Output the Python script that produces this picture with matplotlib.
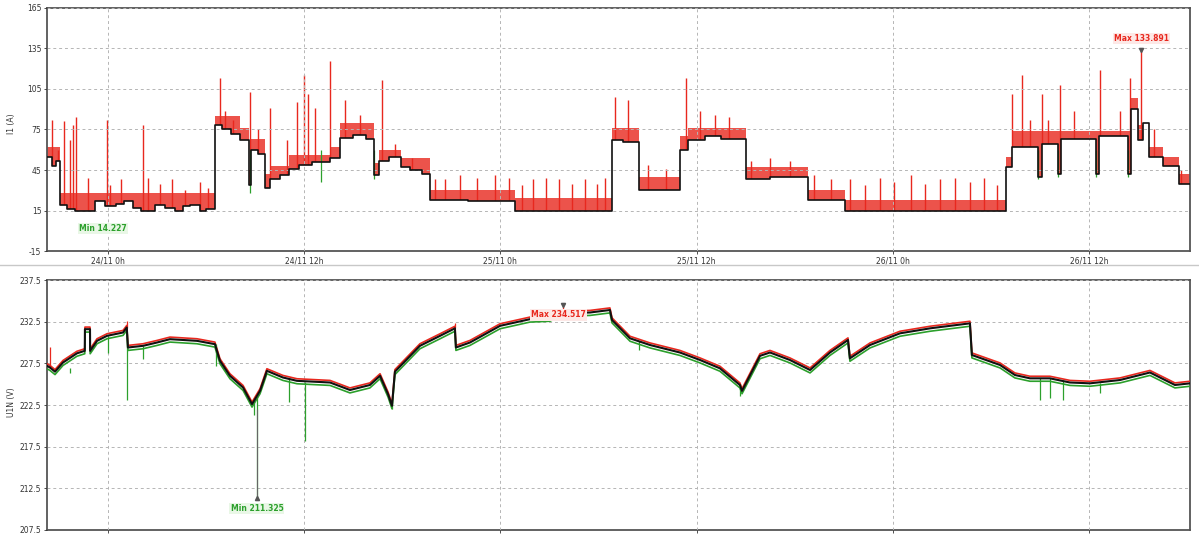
import matplotlib
matplotlib.use("Agg")
import matplotlib.pyplot as plt
from matplotlib.lines import Line2D

# ---------------- data (hours since 24/11 0h) ----------------
x_start, x_end = -3.73, 66.18
xtick_pos = [0, 12, 24, 36, 48, 60]
xtick_labels = ["24/11 0h", "24/11 12h", "25/11 0h", "25/11 12h", "26/11 0h", "26/11 12h"]

i1_ticks = [-15, 15, 45, 75, 105, 135, 165]
u_ticks = [207.5, 212.5, 217.5, 222.5, 227.5, 232.5, 237.5]

# I1 average (step breakpoints)
i1_avg_t = [-3.73, -3.45, -3.2, -2.94, -2.5, -2.0, -1.5, -0.8, -0.2, 0.5,
            1.0, 1.5, 2.0, 2.9, 3.5, 4.1, 4.6, 5.0, 5.6, 6.0,
            6.54, 7.0, 7.5, 8.07, 8.6, 8.75, 9.2, 9.6, 9.9, 10.5,
            11.1, 11.7, 12.5, 13.6, 14.2, 15.0, 15.8, 16.3, 16.6, 17.2,
            17.9, 18.5, 19.2, 19.7, 22.0, 24.9, 27.0, 30.8, 31.5, 32.5,
            35.0, 35.5, 36.5, 37.5, 39.0, 40.5, 42.8, 45.1,
            54.9, 55.3, 56.9, 57.1, 58.1, 58.3, 60.4, 60.6, 62.4, 62.6,
            63.0, 63.3, 63.7, 64.5, 65.5, 66.18]
i1_avg_v = [55, 48, 52, 19, 16, 15, 15, 22, 18, 20,
            22, 17, 15, 19, 17, 15, 18, 19, 15, 16,
            78, 75, 72, 67, 34, 60, 57, 32, 38, 41,
            46, 49, 51, 54, 69, 71, 68, 41, 52, 55,
            47, 45, 42, 23, 22, 15, 15, 67, 66, 30,
            60, 67, 70, 68, 38, 40, 23, 15,
            47, 62, 40, 64, 42, 68, 42, 70, 42, 90,
            67, 80, 55, 48, 35, 35]

# I1 maximum envelope (step breakpoints)
i1_max_t = [-3.73, -2.94, 6.54, 8.07, 8.6, 8.75, 9.6, 9.9, 11.1, 13.6,
            14.2, 16.3, 16.6, 17.9, 19.7, 24.9, 30.8, 32.5, 35.0, 35.5,
            39.0, 42.8, 45.1, 54.9, 55.3, 62.6, 63.0, 63.7, 64.5, 65.5, 66.18]
i1_max_v = [62, 28, 85, 76, 45, 68, 42, 48, 56, 62,
            80, 50, 60, 54, 30, 24, 76, 40, 70, 76,
            47, 30, 23, 55, 74, 98, 78, 62, 55, 42, 42]

# I1 maximum spikes
i1_spk_t = [-3.43, -3.06, -2.69, -2.32, -2.14, -1.96, -1.22, -0.06, 0.12, 0.80,
            2.14, 2.45, 3.18, 3.91, 4.71, 5.63, 6.12, 6.85, 7.16, 7.65,
            8.69, 9.17, 9.91, 10.95, 11.56, 11.99, 12.23, 12.66, 13.58, 14.50,
            15.41, 16.76, 17.55, 18.59, 20.0, 20.6, 21.5, 22.6, 23.7, 24.5,
            25.3, 26.0, 26.8, 27.6, 28.4, 29.2, 29.9, 30.4, 31.0, 31.8,
            33.0, 34.1, 35.35, 36.2, 37.1, 38.0, 39.3, 40.5, 41.7, 43.2,
            44.2, 45.4, 46.3, 47.2, 48.1, 49.1, 50.0, 50.9, 51.8, 52.7,
            53.6, 54.4, 55.3, 55.9, 56.4, 57.1, 57.5, 58.2, 59.1, 60.7,
            61.9, 62.5, 63.2, 64.0, 64.9, 65.6]
i1_spk_v = [82, 60, 81, 67, 78, 84, 39, 82, 34, 38,
            78, 39, 35, 38, 30, 36, 32, 113, 89, 82,
            103, 75, 91, 67, 95, 115, 101, 91, 126, 97,
            86, 112, 64, 54, 38, 38, 41, 39, 41, 39,
            34, 38, 39, 38, 35, 38, 35, 39, 99, 97,
            49, 46, 113, 89, 86, 84, 52, 54, 52, 41,
            38, 38, 34, 39, 36, 41, 35, 38, 39, 36,
            39, 34, 101, 115, 82, 101, 82, 108, 89, 119,
            89, 113, 133.891, 75, 49, 45]

# I1 minimum dips
i1_dip_t = [8.7, 13.0, 16.3, 56.9, 58.1, 60.4, 62.4]
i1_dip_v = [28, 36, 38, 38, 40, 40, 40]

i1_min_pt = (-2.0, 14.227)
i1_max_pt = (63.2, 133.891)

# U1N average / maximum / minimum
u_avg_t = [-3.73, -3.55, -3.24, -2.75, -1.90, -1.42, -1.41, -1.10, -1.09, -0.67,
           -0.06, 0.92, 1.15, 1.22, 2.14, 3.00, 3.79, 5.44, 6.54, 6.85,
           7.46, 8.26, 8.81, 9.30, 9.72, 10.70, 11.56, 13.58, 14.80, 16.02,
           16.64, 17.13, 17.37, 17.55, 19.08, 20.31, 21.22, 21.28, 22.14, 23.98,
           25.81, 27.03, 27.65, 29.48, 30.70, 30.83, 31.93, 33.15, 34.98, 36.21,
           37.43, 38.65, 38.78, 39.88, 40.49, 41.71, 42.94, 44.16, 45.26, 45.38,
           46.61, 48.44, 50.28, 52.72, 52.84, 54.56, 55.47, 56.39, 57.61, 58.84,
           60.06, 61.90, 63.73, 64.65, 65.26, 66.18]
u_avg_v = [227.2, 227.0, 226.5, 227.6, 228.7, 229.0, 231.6, 231.6, 229.0, 230.2,
           230.8, 231.2, 231.8, 229.4, 229.6, 230.0, 230.4, 230.2, 229.8, 227.8,
           226.0, 224.6, 222.6, 224.2, 226.6, 225.8, 225.4, 225.2, 224.3, 224.9,
           226.0, 223.8, 222.4, 226.5, 229.6, 230.8, 231.7, 229.4, 230.0, 232.0,
           232.8, 232.9, 233.5, 233.6, 233.9, 232.7, 230.5, 229.7, 228.8, 227.9,
           226.9, 224.9, 224.2, 228.4, 228.8, 227.9, 226.7, 228.8, 230.3, 228.1,
           229.7, 231.1, 231.7, 232.3, 228.5, 227.3, 226.1, 225.7, 225.7, 225.2,
           225.1, 225.5, 226.4, 225.5, 224.9, 225.1]
u_max_v = [227.45, 227.25, 226.75, 227.85, 228.95, 229.25, 231.85, 231.85, 229.25, 230.45,
           231.05, 231.45, 232.05, 229.65, 229.85, 230.25, 230.65, 230.45, 230.05, 228.05,
           226.25, 224.85, 222.85, 224.45, 226.85, 226.05, 225.65, 225.45, 224.55, 225.15,
           226.25, 224.05, 222.65, 226.75, 229.85, 231.05, 231.95, 229.65, 230.25, 232.25,
           233.05, 233.15, 233.75, 233.85, 234.15, 232.95, 230.75, 229.95, 229.05, 228.15,
           227.15, 225.15, 224.45, 228.65, 229.05, 228.15, 226.95, 229.05, 230.55, 228.35,
           229.95, 231.35, 231.95, 232.55, 228.75, 227.55, 226.35, 225.95, 225.95, 225.45,
           225.35, 225.75, 226.65, 225.75, 225.15, 225.35]
u_min_v = [226.85, 226.65, 226.15, 227.25, 228.35, 228.65, 231.25, 231.25, 228.65, 229.85,
           230.45, 230.85, 231.45, 229.05, 229.25, 229.65, 230.05, 229.85, 229.45, 227.45,
           225.65, 224.25, 222.25, 223.85, 226.25, 225.45, 225.05, 224.85, 223.95, 224.55,
           225.65, 223.45, 222.05, 226.15, 229.25, 230.45, 231.35, 229.05, 229.65, 231.65,
           232.45, 232.55, 233.15, 233.25, 233.55, 232.35, 230.15, 229.35, 228.45, 227.55,
           226.55, 224.55, 223.85, 228.05, 228.45, 227.55, 226.35, 228.45, 229.95, 227.75,
           229.35, 230.75, 231.35, 231.95, 228.15, 226.95, 225.75, 225.35, 225.35, 224.85,
           224.75, 225.15, 226.05, 225.15, 224.55, 224.75]

u_spk_t = [-3.55, 1.16, 21.2, 27.8]
u_spk_base = [227.0, 231.8, 231.7, 233.6]
u_spk_v = [229.5, 232.6, 232.3, 234.517]
u_dip_t = [-2.3, 0.0, 1.16, 2.14, 6.6, 8.95, 9.11, 11.1, 12.05, 17.37, 32.5, 38.65, 57.0, 57.6, 58.4, 60.7]
u_dip_base = [227.0, 230.8, 231.0, 229.6, 229.8, 223.0, 223.5, 225.8, 225.3, 223.0, 230.2, 225.0, 225.7, 225.7, 225.4, 225.2]
u_dip_v = [226.3, 228.8, 223.1, 228.0, 227.2, 221.3, 211.325, 222.9, 218.2, 222.0, 229.1, 223.6, 223.1, 223.4, 223.1, 224.0]

u_min_pt = (9.11, 211.325)
u_max_pt = (27.8, 234.517)

# ---------------- styling ----------------
RED = "#e8281e"
BLACK = "#111111"
GREEN = "#2ca02c"
GRID = "#b5b5b5"
TICKC = "#333333"

fig = plt.figure(figsize=(11.99, 5.36), dpi=100)
ax1 = fig.add_axes([0.0392, 0.5317, 0.9533, 0.4534])
ax2 = fig.add_axes([0.0392, 0.0112, 0.9533, 0.4664])

for ax in (ax1, ax2):
    ax.set_xlim(x_start, x_end)
    ax.set_xticks(xtick_pos)
    ax.grid(True, color=GRID, linestyle=(0, (3, 3)), linewidth=0.7, zorder=3)
    ax.set_axisbelow(False)
    for s in ax.spines.values():
        s.set_color("#555555")
        s.set_linewidth(1.3)
    ax.tick_params(labelsize=5.5, colors=TICKC, length=2, width=0.6, pad=2)

# --- top chart: I1 ---
ax1.set_ylim(-15, 165)
ax1.set_yticks(i1_ticks)
ax1.set_yticklabels([str(v) for v in i1_ticks])
ax1.set_xticklabels(xtick_labels)

ax1.fill_between(i1_max_t, -15, i1_max_v, step="post", color=RED, alpha=0.8, lw=0, zorder=1)
ax1.vlines(i1_spk_t, -15, i1_spk_v, color=RED, lw=1.0, zorder=1)
ax1.fill_between(i1_avg_t, -15, i1_avg_v, step="post", color="white", lw=0, zorder=1.5)
ax1.vlines(i1_dip_t, i1_dip_v, 60, color=GREEN, lw=0.9, zorder=1.6)
ax1.step(i1_avg_t, i1_avg_v, where="post", color=BLACK, lw=1.2, zorder=4)

ax1.plot(*i1_max_pt, marker="v", ms=3, color="#555555", zorder=6)
ax1.annotate(f"Max {i1_max_pt[1]:.3f}", xy=i1_max_pt, xytext=(0, 5), textcoords="offset points",
             ha="center", va="bottom", fontsize=5.5, fontweight="bold", color=RED, zorder=7,
             bbox=dict(boxstyle="square,pad=0.15", fc="#fde8e6", ec="none"))
ax1.annotate(f"Min {i1_min_pt[1]:.3f}", xy=i1_min_pt, xytext=(20, -9), textcoords="offset points",
             ha="center", va="top", fontsize=5.5, fontweight="bold", color=GREEN, zorder=7,
             bbox=dict(boxstyle="square,pad=0.15", fc="#e9f7e6", ec="none"))

# --- bottom chart: U1N ---
ax2.set_ylim(207.5, 237.5)
ax2.set_yticks(u_ticks)
ax2.set_yticklabels([f"{v:.1f}" for v in u_ticks])
ax2.set_xticklabels([])

ax2.vlines(u_spk_t, u_spk_base, u_spk_v, color=RED, lw=0.9, zorder=4)
ax2.plot(u_avg_t, u_max_v, color=RED, lw=1.2, zorder=4)
ax2.vlines(u_dip_t, u_dip_v, u_dip_base, color=GREEN, lw=0.9, zorder=4)
ax2.plot(u_avg_t, u_min_v, color=GREEN, lw=1.2, zorder=4)
ax2.plot(u_avg_t, u_avg_v, color=BLACK, lw=1.5, zorder=5)
ax2.vlines([u_min_pt[0]], u_min_pt[1], 222.0, color="#666666", lw=0.8, zorder=4.5)

ax2.plot(*u_min_pt, marker="^", ms=3, color="#555555", zorder=6)
ax2.annotate(f"Min {u_min_pt[1]:.3f}", xy=u_min_pt, xytext=(0, -4), textcoords="offset points",
             ha="center", va="top", fontsize=5.5, fontweight="bold", color=GREEN, zorder=7,
             bbox=dict(boxstyle="square,pad=0.15", fc="#e9f7e6", ec="none"))
ax2.plot(*u_max_pt, marker="v", ms=3, color="#555555", zorder=6)
ax2.annotate(f"Max {u_max_pt[1]:.3f}", xy=u_max_pt, xytext=(-3, -4), textcoords="offset points",
             ha="center", va="top", fontsize=5.5, fontweight="bold", color=RED, zorder=7,
             bbox=dict(boxstyle="square,pad=0.15", fc="#fde8e6", ec="none"))

# axis titles
fig.text(0.010, 0.77, "I1 (A)", rotation=90, fontsize=5.5, color=TICKC, ha="center", va="center")
fig.text(0.010, 0.25, "U1N (V)", rotation=90, fontsize=5.5, color=TICKC, ha="center", va="center")

# separator line between panels
fig.add_artist(Line2D([0, 1], [0.505, 0.505], transform=fig.transFigure, color="#c8c8c8", lw=1.0))

fig.savefig("out.png", dpi=100)
